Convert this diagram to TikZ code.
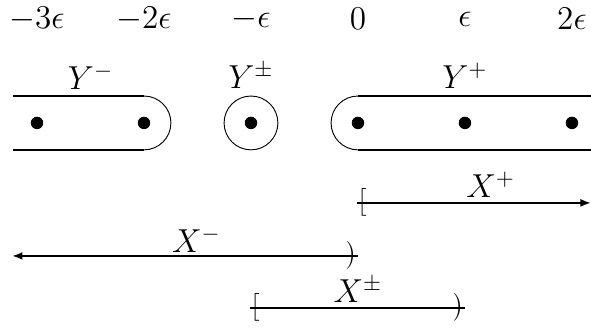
\documentclass[tikz,border=0pt]{standalone}
\usepackage{amsmath,amssymb}
\usetikzlibrary{arrows.meta,positioning,calc}

\begin{document}
\begin{tikzpicture}[x=1.63cm, y=1cm, font=\Large,
  dot/.style={circle, fill, inner sep=0pt, minimum size=0.19cm},
  band/.style={thick},
  rim/.style={thin},
  arr/.style={-{Latex[length=1.6mm]}, thick},
  ends/.style={inner sep=0pt, font=\normalsize}]
\useasboundingbox (-3.346,-3.122) rectangle (2.178,1.873);
% points on the line
\node (tm3) at (-3,1.58) {$-3\epsilon$};
\node (tm2) at (-2,1.58) {$-2\epsilon$};
\node (tm1) at (-1,1.58) {$-\epsilon$};
\node (tz) at (0,1.58) {$0$};
\node (tp1) at (1,1.58) {$\epsilon$};
\node (tp2) at (2,1.58) {$2\epsilon$};
\node[dot] (dm3) at (-3,0) {};
\node[dot] (dm2) at (-2,0) {};
\node[dot] (dm1) at (-1,0) {};
\node[dot] (dz) at (0,0) {};
\node[dot] (dp1) at (1,0) {};
\node[dot] (dp2) at (2,0) {};
% the Y sets
\draw[band] (-3.224,0.41) -- (-2,0.41);
\draw[band] (-3.224,-0.41) -- (-2,-0.41);
\draw[rim] (-2,0.41) arc[start angle=90, end angle=-90, radius=0.41cm];
\draw[rim] (dm1) circle[radius=0.41cm];
\draw[rim] (0,0.41) arc[start angle=90, end angle=270, radius=0.41cm];
\draw[band] (0,0.41) -- (2.178,0.41);
\draw[band] (0,-0.41) -- (2.178,-0.41);
\node (ym) at (-2.5,0.7) {$Y^-$};
\node (ypm) at (-1,0.72) {$Y^\pm$};
\node (yp) at (1,0.72) {$Y^+$};
% the X intervals
\node[ends, anchor=west] (xpl) at ([xshift=-0.6pt]0,-1.218) {$\big[$};
\coordinate (xpr) at (2.178,-1.218);
\draw[arr] (xpl.west) -- (xpr);
\node (xp) at (1.24,-0.94) {$X^+$};
\node[ends, anchor=east] (xmr) at (0,-2.026) {$\big)$};
\coordinate (xml) at (-3.234,-2.026);
\draw[arr] (xmr.east) -- (xml);
\node (xm) at (-1.51,-1.78) {$X^-$};
\node[ends, anchor=west] (xal) at ([xshift=-0.6pt]-1,-2.815) {$\big[$};
\node[ends, anchor=east] (xar) at (1,-2.815) {$\big)$};
\draw[thick] (xal.west) -- (xar.east);
\node (xa) at (0,-2.54) {$X^\pm$};
\end{tikzpicture}
\end{document}
